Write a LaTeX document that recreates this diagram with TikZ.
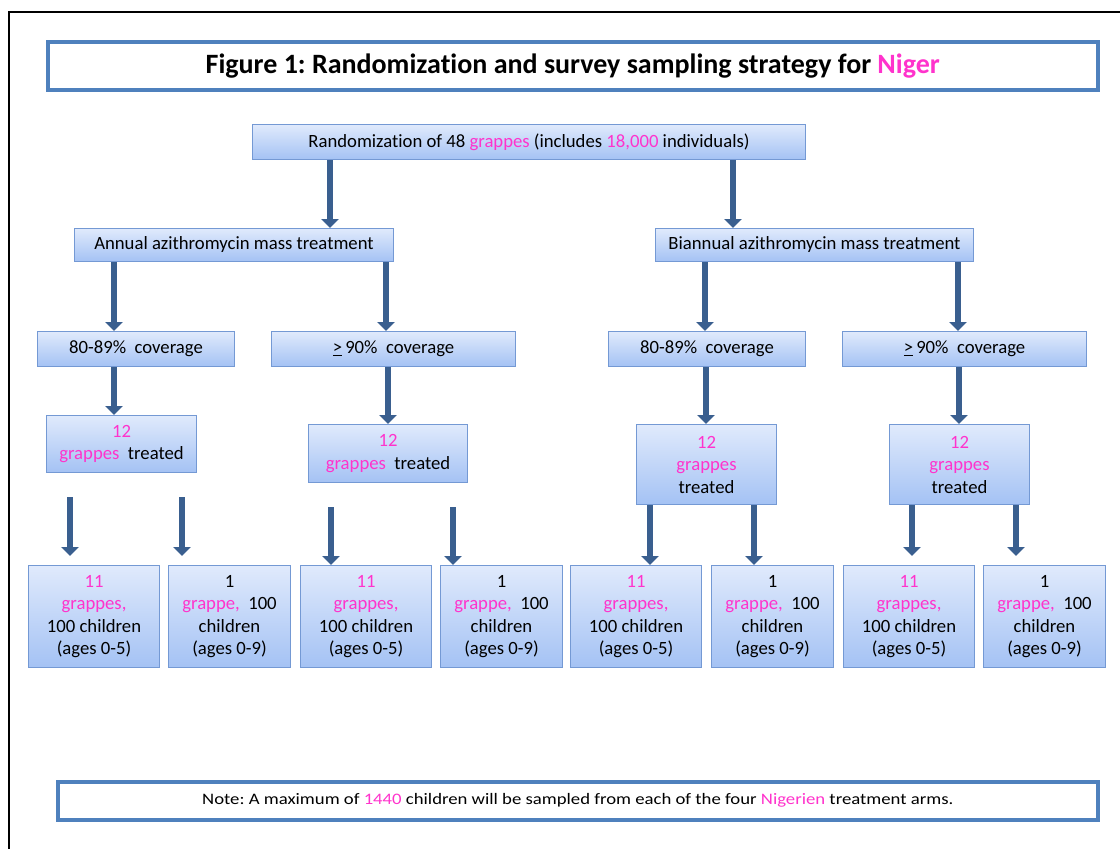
\documentclass[tikz,border=0pt]{standalone}
\usepackage{fontspec}
\setmainfont{Carlito}[Ligatures=NoCommon]
\usetikzlibrary{arrows.meta}
\frenchspacing
\definecolor{pinktext}{RGB}{255,51,204}
\definecolor{boxline}{RGB}{116,153,212}
\definecolor{boxtop}{RGB}{224,234,252}
\definecolor{boxbottom}{RGB}{164,194,244}
\definecolor{arrowblue}{RGB}{58,95,143}
\definecolor{frameblue}{RGB}{79,129,189}
\newcommand{\pk}[1]{\textcolor{pinktext}{#1}}
\newcommand{\atleast}{\underline{>}\,}
\tikzset{
  stagebox/.style={draw=boxline, line width=1pt, top color=boxtop, bottom color=boxbottom,
    anchor=north west, inner sep=0pt, align=center},
  framebox/.style={draw=frameblue, line width=3.5pt, fill=white, anchor=north west, inner sep=0pt},
  blockarrow/.style={draw=arrowblue, line width=6pt, -{Triangle[width=17pt,length=9pt]}},
}
\begin{document}
\begin{tikzpicture}[x=1pt,y=-1pt,font=\fontsize{18.7}{22.5}\selectfont]
\useasboundingbox (0,0) rectangle (1120,849);
\draw[line width=2pt] (9,849) -- (9,12) -- (1120,12);
\node[framebox, minimum width=1050, minimum height=48, font=\bfseries\fontsize{28}{32}\selectfont]
  (title) at (46,40) {Figure 1: Randomization and survey sampling strategy for \pk{Niger}};
% randomization
\node[stagebox, minimum width=553, minimum height=35] (rand) at (252,124)
  {Randomization of 48 \pk{grappes} (includes \pk{18,000} individuals)};
% arms
\node[stagebox, minimum width=319, minimum height=33] (annual) at (74,228)
  {Annual azithromycin mass treatment};
\node[stagebox, minimum width=318, minimum height=33] (biannual) at (655,228)
  {Biannual azithromycin mass treatment};
% coverage
\node[stagebox, minimum width=197, minimum height=35] (low1) at (37,331) {80-89\%~ coverage};
\node[stagebox, minimum width=244, minimum height=35] (high1) at (271,331) {\atleast 90\%~ coverage};
\node[stagebox, minimum width=197, minimum height=35] (low2) at (608,331) {80-89\%~ coverage};
\node[stagebox, minimum width=244, minimum height=35] (high2) at (842,331) {\atleast 90\%~ coverage};
% treated grappes
\node[stagebox, minimum width=150, minimum height=57] (treat1) at (46,415) {\pk{12}\\\pk{grappes}~ treated};
\node[stagebox, minimum width=159, minimum height=58] (treat2) at (308,424) {\pk{12}\\\pk{grappes}~ treated};
\node[stagebox, minimum width=140, minimum height=80] (treat3) at (636,424) {\pk{12}\\\pk{grappes}\\treated};
\node[stagebox, minimum width=140, minimum height=80] (treat4) at (889,424) {\pk{12}\\\pk{grappes}\\treated};
% sampled children
\foreach \i/\x in {1/28, 2/300, 3/570, 4/843} {
  \node[stagebox, minimum width=131, minimum height=102] (young\i) at (\x,565)
    {\pk{11}\\\pk{grappes,}\\100 children\\(ages 0-5)};
}
\foreach \i/\x in {1/168, 2/440, 3/711, 4/983} {
  \node[stagebox, minimum width=122, minimum height=102] (older\i) at (\x,565)
    {1\\\pk{grappe,}~ 100\\children\\(ages 0-9)};
}
\node[framebox, minimum width=1040, minimum height=38, font=\fontsize{16}{19}\selectfont]
  (note) at (56,780)
  {\scalebox{1.17}[1]{Note: A maximum of \pk{1440} children will be sampled from each of the four \pk{Nigerien} treatment arms.}};
% arrows
\draw[blockarrow] (rand.south -| 330,0) -- (annual.north -| 330,0);
\draw[blockarrow] (rand.south -| 733,0) -- (biannual.north -| 733,0);
\draw[blockarrow] (annual.south -| 114,0) -- (low1.north -| 114,0);
\draw[blockarrow] (annual.south -| 386,0) -- (high1.north -| 386,0);
\draw[blockarrow] (biannual.south -| 705,0) -- (low2.north -| 705,0);
\draw[blockarrow] (biannual.south -| 958,0) -- (high2.north -| 958,0);
\draw[blockarrow] (low1.south -| 114,0) -- (treat1.north -| 114,0);
\draw[blockarrow] (high1.south -| 388,0) -- (treat2.north -| 388,0);
\draw[blockarrow] (low2.south -| 706,0) -- (treat3.north -| 706,0);
\draw[blockarrow] (high2.south -| 959,0) -- (treat4.north -| 959,0);
% arrows to the samples
\coordinate (a1) at (70,497);   \coordinate (a1end) at (70,556);
\coordinate (b1) at (182,497);  \coordinate (b1end) at (182,556);
\coordinate (a2) at (331,507);
\coordinate (b2) at (453,507);
\coordinate (a4end) at (912,556);
\coordinate (b4end) at (1016,556);
\draw[blockarrow] (a1) -- (a1end);
\draw[blockarrow] (b1) -- (b1end);
\draw[blockarrow] (a2) -- (young2.north -| a2);
\draw[blockarrow] (b2) -- (older2.north -| b2);
\draw[blockarrow] (treat3.south -| 650,0) -- (young3.north -| 650,0);
\draw[blockarrow] (treat3.south -| 754,0) -- (older3.north -| 754,0);
\draw[blockarrow] (treat4.south -| a4end) -- (a4end);
\draw[blockarrow] (treat4.south -| b4end) -- (b4end);
\end{tikzpicture}
\end{document}
